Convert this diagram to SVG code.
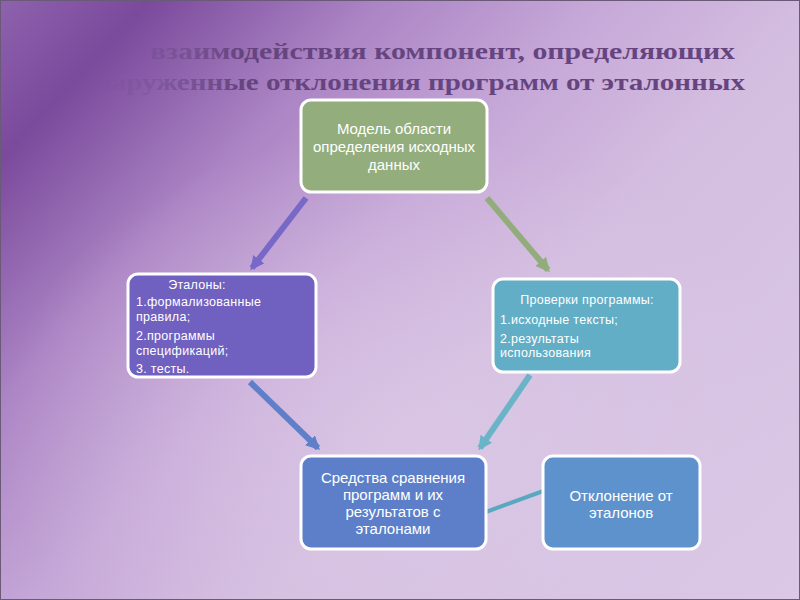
<svg xmlns="http://www.w3.org/2000/svg" width="800" height="600" viewBox="0 0 800 600">
<defs>
<linearGradient id="bg" x1="0" y1="0" x2="800" y2="750" gradientUnits="userSpaceOnUse">
<stop offset="0" stop-color="#8e62ae"/>
<stop offset="0.1" stop-color="#7a4a9c"/>
<stop offset="0.25" stop-color="#ab84c4"/>
<stop offset="0.4" stop-color="#c6a8d8"/>
<stop offset="0.55" stop-color="#d4bee0"/>
<stop offset="1" stop-color="#dccbe8"/>
</linearGradient>
<radialGradient id="light" cx="0.5" cy="0.72" r="0.5">
<stop offset="0" stop-color="#dcc9e6" stop-opacity="0.7"/>
<stop offset="1" stop-color="#dcc9e6" stop-opacity="0"/>
</radialGradient>
<linearGradient id="titlefade" x1="0" y1="0" x2="800" y2="0" gradientUnits="userSpaceOnUse">
<stop offset="0.12" stop-color="#7a549a" stop-opacity="0.15"/>
<stop offset="0.3" stop-color="#65447f"/>
<stop offset="1" stop-color="#65447f"/>
</linearGradient>
<marker id="ah-purple" viewBox="0 0 10 10" refX="8" refY="5" markerWidth="14" markerHeight="14" markerUnits="userSpaceOnUse" orient="auto"><path d="M0,0 L10,5 L0,10 z" fill="#7868c8"/></marker>
<marker id="ah-green" viewBox="0 0 10 10" refX="8" refY="5" markerWidth="14" markerHeight="14" markerUnits="userSpaceOnUse" orient="auto"><path d="M0,0 L10,5 L0,10 z" fill="#92ac7c"/></marker>
<marker id="ah-blue" viewBox="0 0 10 10" refX="8" refY="5" markerWidth="14" markerHeight="14" markerUnits="userSpaceOnUse" orient="auto"><path d="M0,0 L10,5 L0,10 z" fill="#5f80c9"/></marker>
<marker id="ah-teal" viewBox="0 0 10 10" refX="8" refY="5" markerWidth="14" markerHeight="14" markerUnits="userSpaceOnUse" orient="auto"><path d="M0,0 L10,5 L0,10 z" fill="#6bb4c8"/></marker>
</defs>
<style>
.box{stroke:#ffffff;stroke-width:3}
.t{font-family:"Liberation Sans",Arial,sans-serif;fill:#ffffff}
.big{font-size:15px}
.sm{font-size:12.5px;letter-spacing:0.3px}
.title{font-family:"Liberation Serif","Times New Roman",serif;font-weight:bold;font-size:24px;fill:url(#titlefade)}
.conn{fill:none;stroke-width:6}
</style>
<rect width="800" height="600" fill="url(#bg)"/>
<rect width="800" height="600" fill="url(#light)"/>
<rect x="0.5" y="0.5" width="799" height="599" fill="none" stroke="#6a5a78" stroke-width="1"/>
<g id="title">
<text class="title" x="150" y="59" textLength="585" lengthAdjust="spacingAndGlyphs">взаимодействия компонент, определяющих</text>
<text class="title" x="95" y="90" textLength="650" lengthAdjust="spacingAndGlyphs">наруженные отклонения программ от эталонных</text>
</g>
<g id="connectors">
<line class="conn" x1="306" y1="198" x2="252" y2="268" stroke="#7868c8" marker-end="url(#ah-purple)"/>
<line class="conn" x1="487" y1="198" x2="548" y2="270" stroke="#92ac7c" marker-end="url(#ah-green)"/>
<line class="conn" x1="250" y1="382" x2="318" y2="448" stroke="#5f80c9" marker-end="url(#ah-blue)"/>
<line class="conn" x1="530" y1="375" x2="480" y2="448" stroke="#6bb4c8" marker-end="url(#ah-teal)"/>
<line x1="483" y1="513" x2="546" y2="490" stroke="#58a9c0" stroke-width="4"/>
</g>
<g id="model">
<rect class="box" x="301" y="100" width="186" height="92" rx="10" fill="#93ad7d"/>
<text class="t big" text-anchor="middle" x="394" y="134">Модель области</text>
<text class="t big" text-anchor="middle" x="394" y="152">определения исходных</text>
<text class="t big" text-anchor="middle" x="394" y="170">данных</text>
</g>
<g id="etalony">
<rect class="box" x="128" y="274" width="188" height="103" rx="10" fill="#7060c0"/>
<text class="t sm" text-anchor="middle" x="197" y="289">Эталоны:</text>
<text class="t sm" x="136" y="306">1.формализованные</text>
<text class="t sm" x="136" y="321">правила;</text>
<text class="t sm" x="136" y="340">2.программы</text>
<text class="t sm" x="136" y="355">спецификаций;</text>
<text class="t sm" x="136" y="373">3. тесты.</text>
</g>
<g id="proverki">
<rect class="box" x="493" y="279" width="187" height="93" rx="10" fill="#62aec6"/>
<text class="t sm" text-anchor="middle" x="587" y="304">Проверки программы:</text>
<text class="t sm" x="500" y="324">1.исходные тексты;</text>
<text class="t sm" x="500" y="343">2.результаты</text>
<text class="t sm" x="500" y="357">использования</text>
</g>
<g id="sredstva">
<rect class="box" x="301" y="456" width="185" height="93" rx="10" fill="#5d7fc9"/>
<text class="t big" text-anchor="middle" x="393" y="483">Средства сравнения</text>
<text class="t big" text-anchor="middle" x="393" y="500">программ и их</text>
<text class="t big" text-anchor="middle" x="393" y="517">результатов с</text>
<text class="t big" text-anchor="middle" x="393" y="534">эталонами</text>
</g>
<g id="otklonenie">
<rect class="box" x="543" y="456" width="157" height="93" rx="10" fill="#5e92cc"/>
<text class="t big" text-anchor="middle" x="621" y="501">Отклонение от</text>
<text class="t big" text-anchor="middle" x="621" y="518">эталонов</text>
</g>
</svg>
